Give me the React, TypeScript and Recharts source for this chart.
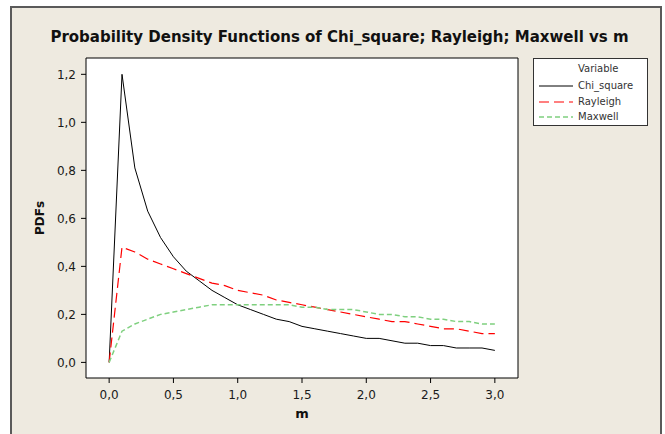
import React from 'react';
import { LineChart, Line, XAxis, YAxis, CartesianGrid, Legend } from 'recharts';

const mValues = [0, 0.1, 0.2, 0.3, 0.4, 0.5, 0.6, 0.7, 0.8, 0.9, 1.0, 1.1, 1.2, 1.3, 1.4, 1.5, 1.6, 1.7, 1.8, 1.9, 2.0, 2.1, 2.2, 2.3, 2.4, 2.5, 2.6, 2.7, 2.8, 2.9, 3.0];
const chiSquare = [0, 1.2, 0.81, 0.63, 0.52, 0.44, 0.38, 0.34, 0.3, 0.27, 0.24, 0.22, 0.2, 0.18, 0.17, 0.15, 0.14, 0.13, 0.12, 0.11, 0.1, 0.1, 0.09, 0.08, 0.08, 0.07, 0.07, 0.06, 0.06, 0.06, 0.05];
const rayleigh = [0, 0.48, 0.46, 0.43, 0.41, 0.39, 0.37, 0.35, 0.33, 0.32, 0.3, 0.29, 0.28, 0.26, 0.25, 0.24, 0.23, 0.22, 0.21, 0.2, 0.19, 0.18, 0.17, 0.17, 0.16, 0.15, 0.14, 0.14, 0.13, 0.12, 0.12];
const maxwell = [0, 0.13, 0.16, 0.18, 0.2, 0.21, 0.22, 0.23, 0.24, 0.24, 0.24, 0.24, 0.24, 0.24, 0.24, 0.23, 0.23, 0.22, 0.22, 0.22, 0.21, 0.2, 0.2, 0.19, 0.19, 0.18, 0.18, 0.17, 0.17, 0.16, 0.16];

const xTicks = [0, 0.5, 1.0, 1.5, 2.0, 2.5, 3.0];
const yTicks = [0, 0.2, 0.4, 0.6, 0.8, 1.0, 1.2];

const titleText = 'Probability Density Functions of Chi_square; Rayleigh; Maxwell vs m';
const legendTitle = 'Variable';

const series = [
  { key: 'Chi_square', color: '#000000', dash: undefined as string | undefined, width: 1 },
  { key: 'Rayleigh', color: '#ff0000', dash: '10 5', width: 1.2 },
  { key: 'Maxwell', color: '#7fd07f', dash: '5 3', width: 1.5 },
];

const data = mValues.map((m, i) => ({
  m,
  Chi_square: chiSquare[i],
  Rayleigh: rayleigh[i],
  Maxwell: maxwell[i],
}));

const FONT = '"DejaVu Sans", Verdana, sans-serif';
const fmt = (v: number) => v.toFixed(1).replace('.', ',');

const LegendBox = () => (
  <div
    style={{
      boxSizing: 'border-box',
      width: 115,
      height: 68,
      background: '#fff',
      border: '1px solid #333',
      position: 'relative',
      fontFamily: FONT,
      fontSize: 10,
      color: '#333',
    }}
  >
    <div style={{ position: 'absolute', left: 44, top: 4, lineHeight: '12px' }}>{legendTitle}</div>
    {series.map((s, i) => (
      <div key={s.key} style={{ position: 'absolute', left: 0, top: 20 + i * 15.5, height: 14, width: 113 }}>
        <svg width={40} height={14} style={{ position: 'absolute', left: 4, top: 0 }}>
          <line x1={1} y1={7} x2={35} y2={7} stroke={s.color} strokeWidth={s.width} strokeDasharray={s.dash} />
        </svg>
        <div style={{ position: 'absolute', left: 44, top: 1, lineHeight: '12px' }}>{s.key}</div>
      </div>
    ))}
  </div>
);

export default function App() {
  return (
    <div style={{ position: 'absolute', left: 0, top: 0, width: 665, height: 434, background: '#fff', overflow: 'hidden' }}>
      <div
        style={{
          position: 'absolute',
          left: 10,
          top: 6,
          width: 648,
          height: 460,
          background: '#eeeae0',
          border: '2px solid #5a5a5a',
        }}
      />
      <div
        style={{
          position: 'absolute',
          left: 7,
          width: 665,
          top: 28,
          textAlign: 'center',
          fontFamily: FONT,
          fontWeight: 'bold',
          fontSize: 15,
          color: '#111',
          lineHeight: '18px',
        }}
      >
        {titleText}
      </div>
      <div style={{ position: 'absolute', left: 0, top: 0 }}>
        <LineChart width={665} height={434} data={data} margin={{ top: 57, left: 26, right: 146, bottom: 26 }}>
          <CartesianGrid horizontal={false} vertical={false} fill="#ffffff" />
          <XAxis
            dataKey="m"
            type="number"
            domain={[-0.18, 3.18]}
            ticks={xTicks}
            tickFormatter={fmt}
            height={30}
            tickSize={5}
            tickMargin={7}
            axisLine={{ stroke: '#000' }}
            tickLine={{ stroke: '#000' }}
            tick={{ fill: '#1a1a1a', fontSize: 12, fontFamily: FONT }}
            allowDataOverflow
            interval={0}
            label={{ value: 'm', position: 'bottom', offset: 1, style: { fontFamily: FONT, fontWeight: 'bold', fontSize: 13, fill: '#111' } }}
          />
          <XAxis xAxisId="top" dataKey="m" type="number" orientation="top" domain={[-0.18, 3.18]} height={1} tick={false} tickLine={false} axisLine={{ stroke: '#000' }} allowDataOverflow />
          <YAxis
            type="number"
            domain={[-0.065, 1.268]}
            ticks={yTicks}
            tickFormatter={fmt}
            width={60}
            tickSize={5}
            tickMargin={5}
            axisLine={{ stroke: '#000' }}
            tickLine={{ stroke: '#000' }}
            tick={{ fill: '#1a1a1a', fontSize: 12, fontFamily: FONT }}
            allowDataOverflow
            interval={0}
            label={{
              content: (props: any) => {
                const vb = props.viewBox || {};
                const cx = 40;
                const cy = (vb.y ?? 58) + (vb.height ?? 320) / 2;
                return (
                  <text
                    x={cx}
                    y={cy}
                    transform={`rotate(-90 ${cx} ${cy})`}
                    textAnchor="middle"
                    dominantBaseline="central"
                    style={{ fontFamily: FONT, fontWeight: 'bold', fontSize: 12, fill: '#111' }}
                  >
                    PDFs
                  </text>
                );
              },
            }}
          />
          <YAxis yAxisId="right" orientation="right" type="number" domain={[-0.065, 1.268]} width={1} tick={false} tickLine={false} axisLine={{ stroke: '#000' }} allowDataOverflow />
          {series.map((s) => (
            <Line
              key={s.key}
              type="linear"
              dataKey={s.key}
              name={s.key}
              stroke={s.color}
              strokeWidth={s.width}
              strokeDasharray={s.dash}
              dot={false}
              activeDot={false}
              isAnimationActive={false}
            />
          ))}
          <Legend
            layout="vertical"
            align="center"
            verticalAlign="middle"
            content={() => <LegendBox />}
            wrapperStyle={{ left: 533, top: 58, width: 115, height: 68 }}
          />
        </LineChart>
      </div>
    </div>
  );
}
